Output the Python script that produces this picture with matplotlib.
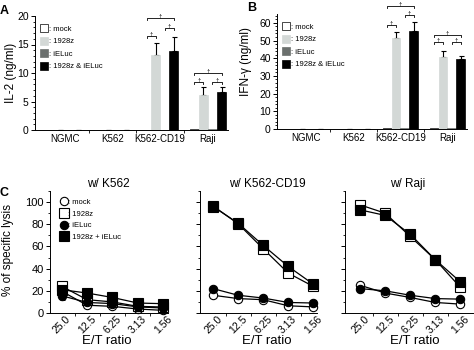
import numpy as np
import matplotlib.pyplot as plt

plt.rcParams['font.family'] = ['Liberation Sans', 'DejaVu Sans']

# figure size in pixels, axes placed by pixel box
W, H = 474, 350

def box(l, r, b, t):
    return [l / W, 1 - b / H, (r - l) / W, (b - t) / H]

# ---- A / B : cytokine bars
groups = ['NGMC', 'K562', 'K562-CD19', 'Raji']
conds = [': mock', ': 1928z', ': iELuc', ': 1928z & iELuc']
bar_colors = ['white', '#d3d8d6', '#6b706e', 'black']

il2_mock = [0.05, 0.05, 0.05, 0.15]
il2_1928z = [0.05, 0.05, 13.2, 6.1]
il2_ieluc = [0.05, 0.05, 0.05, 0.12]
il2_both = [0.05, 0.05, 13.9, 6.6]
il2_err_1928z = [0, 0, 2.0, 1.5]
il2_err_both = [0, 0, 2.4, 0.9]

ifn_mock = [0.2, 0.2, 0.3, 0.4]
ifn_1928z = [0.2, 0.2, 51.3, 40.6]
ifn_ieluc = [0.2, 0.2, 0.3, 0.5]
ifn_both = [0.2, 0.2, 55.4, 39.3]
ifn_err_1928z = [0, 0, 3.5, 3.3]
ifn_err_both = [0, 0, 4.8, 2.2]

# (group, bar i, bar j, height)
il2_brackets = [(2, 0, 1, 16.5), (2, 2, 3, 17.9), (2, 0, 3, 19.6),
                (3, 0, 1, 8.4), (3, 2, 3, 8.4), (3, 0, 3, 10.0)]
ifn_brackets = [(2, 0, 1, 58.9), (2, 2, 3, 64.5), (2, 0, 3, 69.3),
                (3, 0, 1, 49.0), (3, 2, 3, 49.0), (3, 0, 3, 53.0)]

# ---- C : cytotoxicity
et = ['25.0', '12.5', '6.25', '3.13', '1.56']
k562_mock = [19.5, 7, 6, 3.6, 2.4]
k562_1928z = [24, 12, 10, 6, 5.4]
k562_ieluc = [15.5, 9.5, 8.5, 5.5, 4.5]
k562_both = [21, 18, 14, 9, 8.4]
k562_err = [3.5, 1.5, 1.5, 1, 1]

cd19_mock = [16, 13, 12, 6.5, 5.5]
cd19_1928z = [96.5, 80.5, 58, 36, 24]
cd19_ieluc = [22, 16, 13.5, 9.5, 9]
cd19_both = [96, 81, 61, 42, 26]
cd19_err = [1, 1, 2.5, 3, 3]

raji_mock = [25, 18, 14, 9.5, 8]
raji_1928z = [97.5, 90, 69, 48, 23]
raji_ieluc = [22, 20, 16, 13, 12.5]
raji_both = [93, 88, 71, 48, 28]
raji_err = [1, 1, 1.5, 1.5, 2]

fig = plt.figure(figsize=(W / 100, H / 100), dpi=100)


def bar_panel(ax, series, errs, brackets, ymax, ytop, major, minor, arm):
    x = np.arange(len(groups))
    slot = 0.19
    for k, vals in enumerate(series):
        xs = x + (k - 1.5) * slot
        ax.bar(xs, vals, width=0.18, color=bar_colors[k],
               edgecolor='black' if k == 0 else bar_colors[k], linewidth=0.5,
               label=conds[k], zorder=2)
        e = errs.get(k)
        if e is not None:
            ax.errorbar(xs, vals, yerr=[np.zeros(len(e)), e], fmt='none',
                        ecolor='black', elinewidth=0.8, capsize=1.8,
                        capthick=0.8, zorder=1)
    for g, i, j, h in brackets:
        x0 = g + (i - 1.5) * slot
        x1 = g + (j - 1.5) * slot
        ax.plot([x0, x0, x1, x1], [h - arm, h, h, h - arm], color='black',
                lw=0.6, clip_on=False)
        ax.text((x0 + x1) / 2, h + arm * 0.25, '†', ha='center', va='baseline',
                fontsize=4.5, clip_on=False)
    ax.set_xlim(-0.62, 3.42)
    ax.set_ylim(0, ymax)
    ax.spines['top'].set_visible(False)
    ax.spines['right'].set_visible(False)
    ax.spines['left'].set_bounds(0, ytop)
    ax.set_yticks(np.arange(0, ytop + 0.1, major))
    ax.set_yticks(np.arange(0, ytop + 0.1, minor), minor=True)
    ax.set_xticks(x)
    ax.set_xticklabels(groups)
    ax.set_xticks([0.5, 1.5, 2.5], minor=True)
    ax.tick_params(axis='x', which='major', length=0, labelsize=7, pad=3)
    ax.tick_params(axis='x', which='minor', length=2, width=0.6)
    ax.tick_params(axis='y', which='major', length=3, width=0.7, labelsize=7.5, pad=1.5)
    ax.tick_params(axis='y', which='minor', length=1.8, width=0.6)
    for s in ['left', 'bottom']:
        ax.spines[s].set_linewidth(0.7)
    ax.legend(loc='upper left', frameon=False, fontsize=5.5, handlelength=1.1,
              handleheight=1.3, handletextpad=0.1, labelspacing=0.5,
              borderaxespad=0.2, bbox_to_anchor=(0.0, 0.97))


axA = fig.add_axes(box(35, 228, 130, 16))
bar_panel(axA, [il2_mock, il2_1928z, il2_ieluc, il2_both],
          {1: il2_err_1928z, 3: il2_err_both}, il2_brackets,
          20, 20, 5, 1, 0.35)
axB = fig.add_axes(box(277, 467, 129, 14))
bar_panel(axB, [ifn_mock, ifn_1928z, ifn_ieluc, ifn_both],
          {1: ifn_err_1928z, 3: ifn_err_both}, ifn_brackets,
          65, 65, 10, 2, 1.1)

fig.text(11 / W, 1 - 73 / H, 'IL-2 (ng/ml)', rotation=90, ha='center',
         va='center', fontsize=8.5)
fig.text(246 / W, 1 - 62 / H, 'IFN-γ (ng/ml)', rotation=90, ha='center',
         va='center', fontsize=8.5)
fig.text(0 / W, 1 - 11 / H, 'A', fontsize=9, fontweight='bold', va='center')
fig.text(247 / W, 1 - 8 / H, 'B', fontsize=9, fontweight='bold', va='center')
fig.text(0 / W, 1 - 193 / H, 'C', fontsize=9, fontweight='bold', va='center')

# ---- C panels
styles = [('o', 'white', ': mock'), ('s', 'white', ': 1928z'),
          ('o', 'black', ': iELuc'), ('s', 'black', ': 1928z + iELuc')]
c_data = [
    ([k562_mock, k562_1928z, k562_ieluc, k562_both], k562_err, 'w/ K562',
     (50, 168), (-0.47, 4.2), 108, 107),
    ([cd19_mock, cd19_1928z, cd19_ieluc, cd19_both], cd19_err, 'w/ K562-CD19',
     (200, 317), (-0.52, 4.15), 267, 267),
    ([raji_mock, raji_1928z, raji_ieluc, raji_both], raji_err, 'w/ Raji',
     (345, 473), (-0.6, 4.5), 408, 415),
]

for n, (series, err, title, (l, r), xl, tx, lx) in enumerate(c_data):
    ax = fig.add_axes(box(l, r, 313, 191))
    x = np.arange(len(et))
    for (m, fc, lab), vals in zip(styles, series):
        ax.errorbar(x, vals, yerr=err, fmt='none', ecolor='black',
                    elinewidth=0.7, capsize=1.8, capthick=0.7, zorder=1)
        ax.plot(x, vals, color='black', lw=0.9, marker=m, mfc=fc, mec='black',
                mew=0.8, ms=6.5 if m == 's' else 6, label=lab, zorder=2,
                clip_on=False)
    ax.set_xlim(*xl)
    ax.set_ylim(0, 110)
    ax.spines['top'].set_visible(False)
    ax.spines['right'].set_visible(False)
    for s in ['left', 'bottom']:
        ax.spines[s].set_linewidth(0.7)
    ax.set_yticks(np.arange(0, 101, 20))
    ax.set_yticks(np.arange(0, 111, 10), minor=True)
    ax.set_xticks(x)
    ax.set_xticklabels(et, rotation=45, ha='center')
    ax.set_xticks(x[:-1] + 0.5, minor=True)
    ax.tick_params(axis='x', which='major', length=0, labelsize=7.5, pad=1)
    ax.tick_params(axis='x', which='minor', length=2.5, width=0.6)
    ax.tick_params(axis='y', which='major', length=3, width=0.7, labelsize=8, pad=1.5)
    ax.tick_params(axis='y', which='minor', length=1.8, width=0.6)
    if n > 0:
        ax.set_yticklabels([])
    else:
        ax.legend(loc='upper left', frameon=False, fontsize=5.5, handlelength=0.6,
                  handletextpad=0.25, labelspacing=0.55, borderaxespad=0.3,
                  bbox_to_anchor=(0.05, 0.98), numpoints=1)
    fig.text(tx / W, 1 - 184 / H, title, ha='center', va='center', fontsize=8.5)
    fig.text(lx / W, 1 - 341 / H, 'E/T ratio', ha='center', va='center', fontsize=9.5)

fig.text(8 / W, 1 - 250 / H, '% of specific lysis', rotation=90, ha='center',
         va='center', fontsize=8.5)

fig.savefig('out.png', dpi=100)
